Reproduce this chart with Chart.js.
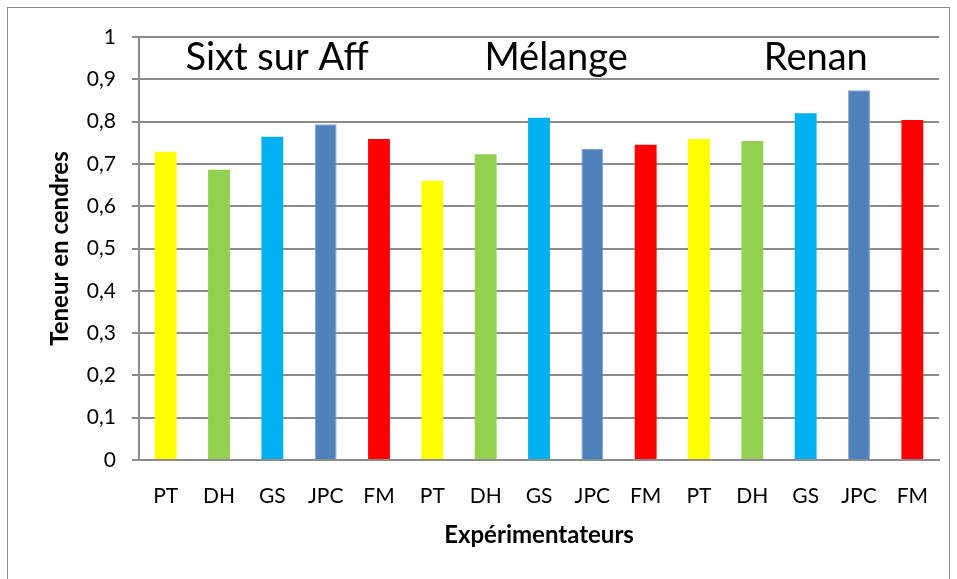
<!DOCTYPE html>
<html>
<head>
<meta charset="utf-8">
<script src="https://cdn.jsdelivr.net/npm/chart.js@4"></script>
<style>
  html, body { margin: 0; padding: 0; background: #fff; }
  #wrap { position: relative; width: 957px; height: 579px; }
  #frame { position: absolute; left: 7px; top: 7px; width: 943px; height: 600px; border: 1.5px solid #8c8c8c; box-sizing: border-box; }
  canvas { position: absolute; left: 0; top: 0; }
</style>
</head>
<body>
<div id="wrap">
  <div id="frame"></div>
  <canvas id="chart" width="957" height="579"></canvas>
</div>
<script>
const categories = ['PT', 'DH', 'GS', 'JPC', 'FM', 'PT', 'DH', 'GS', 'JPC', 'FM', 'PT', 'DH', 'GS', 'JPC', 'FM'];
const values = [0.729, 0.686, 0.764, 0.794, 0.759, 0.660, 0.723, 0.809, 0.735, 0.745, 0.759, 0.754, 0.820, 0.874, 0.804];
const operatorColors = {
    PT: '#FFFF00',
    DH: '#92D050',
    GS: '#00B0F0',
    JPC: '#4F81BD',
    FM: '#FF0000',
};
const groupLabels = ['Sixt sur Aff', 'Mélange', 'Renan'];
const groupCenters = [2.09, 7.32, 12.19];
const yTicks = [0, 0.1, 0.2, 0.3, 0.4, 0.5, 0.6, 0.7, 0.8, 0.9, 1];

const FONT = 'Lato, Calibri, sans-serif';
const GRID = '#8c8c8c';

const groupLabelPlugin = {
    id: 'groupLabels',
    afterDatasetsDraw(chart) {
        const ctx = chart.ctx;
        const x = chart.scales.x;
        const y = chart.scales.y;
        ctx.save();
        ctx.font = '38px ' + FONT;
        ctx.fillStyle = '#000';
        ctx.textAlign = 'center';
        ctx.textBaseline = 'alphabetic';
        groupLabels.forEach((label, i) => {
            ctx.fillText(label, x.getPixelForValue(groupCenters[i]), y.getPixelForValue(0.922));
        });
        ctx.restore();
    },
};

const ctx = document.getElementById('chart').getContext('2d');
new Chart(ctx, {
    type: 'bar',
    data: {
        labels: categories,
        datasets: [
            {
                data: values,
                backgroundColor: categories.map((c) => operatorColors[c]),
                borderColor: categories.map((c) => (c === 'JPC' ? '#7a9fd0' : operatorColors[c])),
                borderWidth: categories.map((c) => (c === 'JPC' ? 1 : 0)),
                borderSkipped: 'bottom',
                barPercentage: 0.41,
                categoryPercentage: 1,
            },
        ],
    },
    options: {
        responsive: false,
        animation: false,
        layout: { padding: { left: 0, top: 37, right: 18, bottom: 0 } },
        plugins: {
            legend: { display: false },
            tooltip: { enabled: false },
        },
        scales: {
            x: {
                grid: { display: false, drawTicks: false },
                border: { display: true, color: GRID, width: 2 },
                ticks: { color: '#000', font: { family: FONT, size: 21 }, padding: 24, maxRotation: 0, autoSkip: false },
                title: {
                    display: true,
                    text: 'Expérimentateurs',
                    color: '#000',
                    font: { family: FONT, size: 24, weight: 'bold' },
                    padding: { top: 0, bottom: 29 },
                },
                afterFit(scale) { scale.height = 119; },
            },
            y: {
                min: 0,
                max: 1,
                afterBuildTicks(scale) { scale.ticks = yTicks.map((v) => ({ value: v })); },
                grid: { color: GRID, lineWidth: 2, tickLength: 7, drawTicks: true },
                border: { display: true, color: GRID, width: 2 },
                ticks: {
                    color: '#000',
                    font: { family: FONT, size: 21 },
                    padding: 16,
                    callback: (v) => String(Math.round(v * 10) / 10).replace('.', ','),
                },
                title: {
                    display: true,
                    text: 'Teneur en cendres',
                    color: '#000',
                    font: { family: FONT, size: 24, weight: 'bold' },
                    padding: { top: 46, bottom: 0 },
                },
                afterFit(scale) { scale.width = 139; },
            },
        },
    },
    plugins: [groupLabelPlugin],
});
</script>
</body>
</html>
